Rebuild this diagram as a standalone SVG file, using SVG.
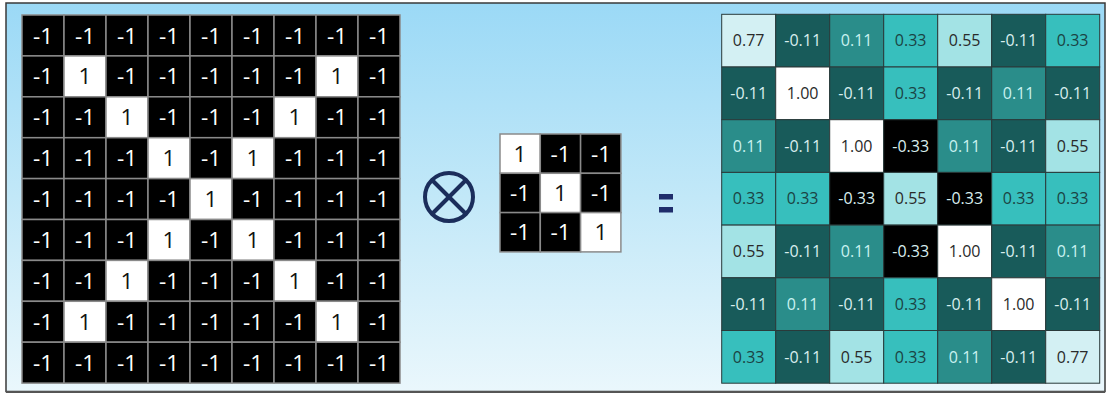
<svg xmlns="http://www.w3.org/2000/svg" width="1106" height="394" viewBox="0 0 1106 394">
<defs>
<linearGradient id="bg" x1="0" y1="0" x2="0" y2="1">
<stop offset="0" stop-color="#9bd9f6"/>
<stop offset="0.5" stop-color="#c2e8f8"/>
<stop offset="1" stop-color="#eaf7fc"/>
</linearGradient>
<style>
.b{fill:#000;stroke:#8a8a8a;stroke-width:1.5}
.w{fill:#fff;stroke:#8a8a8a;stroke-width:1.5}
.tw{fill:#fff;font-family:"Open Sans","Noto Sans",sans-serif;font-size:22.5px;text-anchor:middle}
.tb{fill:#111;font-family:"Open Sans","Noto Sans",sans-serif;font-size:22.5px;text-anchor:middle}
.c{stroke:#2a3a3a;stroke-width:1}
.n{font-family:"Open Sans","Noto Sans",sans-serif;font-size:16px;text-anchor:middle}
.v77{fill:#d3f0f3}.v11n{fill:#185b5a}.v11{fill:#2a8d8a}.v33{fill:#37bfbd}.v55{fill:#a3e3e5}.v100{fill:#fff}.v33n{fill:#000}
.d{fill:#2a2a2a}.l{fill:#d9eeee}.lc{fill:#c8f2f0}.dt{fill:#1b4343}
.op{stroke:#1b2d5b;stroke-width:4;fill:none}
</style>
</defs>
<rect x="0" y="0" width="1106" height="394" fill="#ffffff"/>
<rect x="6" y="3" width="1099" height="388.5" fill="url(#bg)" stroke="#3a3a3a" stroke-width="1.5"/>
<line x1="6" y1="392" x2="1105" y2="392" stroke="#555" stroke-width="2"/>

<g id="input-grid">
<g id="r0">
<rect class="b" x="22" y="15" width="42" height="40.9"/><rect class="b" x="64" y="15" width="42" height="40.9"/><rect class="b" x="106" y="15" width="42" height="40.9"/><rect class="b" x="148" y="15" width="42" height="40.9"/><rect class="b" x="190" y="15" width="42" height="40.9"/><rect class="b" x="232" y="15" width="42" height="40.9"/><rect class="b" x="274" y="15" width="42" height="40.9"/><rect class="b" x="316" y="15" width="42" height="40.9"/><rect class="b" x="358" y="15" width="42" height="40.9"/>
<text class="tw" x="43" y="43.5">-1</text><text class="tw" x="85" y="43.5">-1</text><text class="tw" x="127" y="43.5">-1</text><text class="tw" x="169" y="43.5">-1</text><text class="tw" x="211" y="43.5">-1</text><text class="tw" x="253" y="43.5">-1</text><text class="tw" x="295" y="43.5">-1</text><text class="tw" x="337" y="43.5">-1</text><text class="tw" x="379" y="43.5">-1</text>
</g>
<g id="r1">
<rect class="b" x="22" y="55.9" width="42" height="40.9"/><rect class="w" x="64" y="55.9" width="42" height="40.9"/><rect class="b" x="106" y="55.9" width="42" height="40.9"/><rect class="b" x="148" y="55.9" width="42" height="40.9"/><rect class="b" x="190" y="55.9" width="42" height="40.9"/><rect class="b" x="232" y="55.9" width="42" height="40.9"/><rect class="b" x="274" y="55.9" width="42" height="40.9"/><rect class="w" x="316" y="55.9" width="42" height="40.9"/><rect class="b" x="358" y="55.9" width="42" height="40.9"/>
<text class="tw" x="43" y="84.4">-1</text><text class="tb" x="85" y="84.4">1</text><text class="tw" x="127" y="84.4">-1</text><text class="tw" x="169" y="84.4">-1</text><text class="tw" x="211" y="84.4">-1</text><text class="tw" x="253" y="84.4">-1</text><text class="tw" x="295" y="84.4">-1</text><text class="tb" x="337" y="84.4">1</text><text class="tw" x="379" y="84.4">-1</text>
</g>
<g id="r2">
<rect class="b" x="22" y="96.8" width="42" height="40.9"/><rect class="b" x="64" y="96.8" width="42" height="40.9"/><rect class="w" x="106" y="96.8" width="42" height="40.9"/><rect class="b" x="148" y="96.8" width="42" height="40.9"/><rect class="b" x="190" y="96.8" width="42" height="40.9"/><rect class="b" x="232" y="96.8" width="42" height="40.9"/><rect class="w" x="274" y="96.8" width="42" height="40.9"/><rect class="b" x="316" y="96.8" width="42" height="40.9"/><rect class="b" x="358" y="96.8" width="42" height="40.9"/>
<text class="tw" x="43" y="125.3">-1</text><text class="tw" x="85" y="125.3">-1</text><text class="tb" x="127" y="125.3">1</text><text class="tw" x="169" y="125.3">-1</text><text class="tw" x="211" y="125.3">-1</text><text class="tw" x="253" y="125.3">-1</text><text class="tb" x="295" y="125.3">1</text><text class="tw" x="337" y="125.3">-1</text><text class="tw" x="379" y="125.3">-1</text>
</g>
<g id="r3">
<rect class="b" x="22" y="137.7" width="42" height="40.9"/><rect class="b" x="64" y="137.7" width="42" height="40.9"/><rect class="b" x="106" y="137.7" width="42" height="40.9"/><rect class="w" x="148" y="137.7" width="42" height="40.9"/><rect class="b" x="190" y="137.7" width="42" height="40.9"/><rect class="w" x="232" y="137.7" width="42" height="40.9"/><rect class="b" x="274" y="137.7" width="42" height="40.9"/><rect class="b" x="316" y="137.7" width="42" height="40.9"/><rect class="b" x="358" y="137.7" width="42" height="40.9"/>
<text class="tw" x="43" y="166.2">-1</text><text class="tw" x="85" y="166.2">-1</text><text class="tw" x="127" y="166.2">-1</text><text class="tb" x="169" y="166.2">1</text><text class="tw" x="211" y="166.2">-1</text><text class="tb" x="253" y="166.2">1</text><text class="tw" x="295" y="166.2">-1</text><text class="tw" x="337" y="166.2">-1</text><text class="tw" x="379" y="166.2">-1</text>
</g>
<g id="r4">
<rect class="b" x="22" y="178.6" width="42" height="40.9"/><rect class="b" x="64" y="178.6" width="42" height="40.9"/><rect class="b" x="106" y="178.6" width="42" height="40.9"/><rect class="b" x="148" y="178.6" width="42" height="40.9"/><rect class="w" x="190" y="178.6" width="42" height="40.9"/><rect class="b" x="232" y="178.6" width="42" height="40.9"/><rect class="b" x="274" y="178.6" width="42" height="40.9"/><rect class="b" x="316" y="178.6" width="42" height="40.9"/><rect class="b" x="358" y="178.6" width="42" height="40.9"/>
<text class="tw" x="43" y="207.1">-1</text><text class="tw" x="85" y="207.1">-1</text><text class="tw" x="127" y="207.1">-1</text><text class="tw" x="169" y="207.1">-1</text><text class="tb" x="211" y="207.1">1</text><text class="tw" x="253" y="207.1">-1</text><text class="tw" x="295" y="207.1">-1</text><text class="tw" x="337" y="207.1">-1</text><text class="tw" x="379" y="207.1">-1</text>
</g>
<g id="r5">
<rect class="b" x="22" y="219.5" width="42" height="40.9"/><rect class="b" x="64" y="219.5" width="42" height="40.9"/><rect class="b" x="106" y="219.5" width="42" height="40.9"/><rect class="w" x="148" y="219.5" width="42" height="40.9"/><rect class="b" x="190" y="219.5" width="42" height="40.9"/><rect class="w" x="232" y="219.5" width="42" height="40.9"/><rect class="b" x="274" y="219.5" width="42" height="40.9"/><rect class="b" x="316" y="219.5" width="42" height="40.9"/><rect class="b" x="358" y="219.5" width="42" height="40.9"/>
<text class="tw" x="43" y="248">-1</text><text class="tw" x="85" y="248">-1</text><text class="tw" x="127" y="248">-1</text><text class="tb" x="169" y="248">1</text><text class="tw" x="211" y="248">-1</text><text class="tb" x="253" y="248">1</text><text class="tw" x="295" y="248">-1</text><text class="tw" x="337" y="248">-1</text><text class="tw" x="379" y="248">-1</text>
</g>
<g id="r6">
<rect class="b" x="22" y="260.4" width="42" height="40.9"/><rect class="b" x="64" y="260.4" width="42" height="40.9"/><rect class="w" x="106" y="260.4" width="42" height="40.9"/><rect class="b" x="148" y="260.4" width="42" height="40.9"/><rect class="b" x="190" y="260.4" width="42" height="40.9"/><rect class="b" x="232" y="260.4" width="42" height="40.9"/><rect class="w" x="274" y="260.4" width="42" height="40.9"/><rect class="b" x="316" y="260.4" width="42" height="40.9"/><rect class="b" x="358" y="260.4" width="42" height="40.9"/>
<text class="tw" x="43" y="288.9">-1</text><text class="tw" x="85" y="288.9">-1</text><text class="tb" x="127" y="288.9">1</text><text class="tw" x="169" y="288.9">-1</text><text class="tw" x="211" y="288.9">-1</text><text class="tw" x="253" y="288.9">-1</text><text class="tb" x="295" y="288.9">1</text><text class="tw" x="337" y="288.9">-1</text><text class="tw" x="379" y="288.9">-1</text>
</g>
<g id="r7">
<rect class="b" x="22" y="301.3" width="42" height="40.9"/><rect class="w" x="64" y="301.3" width="42" height="40.9"/><rect class="b" x="106" y="301.3" width="42" height="40.9"/><rect class="b" x="148" y="301.3" width="42" height="40.9"/><rect class="b" x="190" y="301.3" width="42" height="40.9"/><rect class="b" x="232" y="301.3" width="42" height="40.9"/><rect class="b" x="274" y="301.3" width="42" height="40.9"/><rect class="w" x="316" y="301.3" width="42" height="40.9"/><rect class="b" x="358" y="301.3" width="42" height="40.9"/>
<text class="tw" x="43" y="329.8">-1</text><text class="tb" x="85" y="329.8">1</text><text class="tw" x="127" y="329.8">-1</text><text class="tw" x="169" y="329.8">-1</text><text class="tw" x="211" y="329.8">-1</text><text class="tw" x="253" y="329.8">-1</text><text class="tw" x="295" y="329.8">-1</text><text class="tb" x="337" y="329.8">1</text><text class="tw" x="379" y="329.8">-1</text>
</g>
<g id="r8">
<rect class="b" x="22" y="342.2" width="42" height="40.9"/><rect class="b" x="64" y="342.2" width="42" height="40.9"/><rect class="b" x="106" y="342.2" width="42" height="40.9"/><rect class="b" x="148" y="342.2" width="42" height="40.9"/><rect class="b" x="190" y="342.2" width="42" height="40.9"/><rect class="b" x="232" y="342.2" width="42" height="40.9"/><rect class="b" x="274" y="342.2" width="42" height="40.9"/><rect class="b" x="316" y="342.2" width="42" height="40.9"/><rect class="b" x="358" y="342.2" width="42" height="40.9"/>
<text class="tw" x="43" y="370.7">-1</text><text class="tw" x="85" y="370.7">-1</text><text class="tw" x="127" y="370.7">-1</text><text class="tw" x="169" y="370.7">-1</text><text class="tw" x="211" y="370.7">-1</text><text class="tw" x="253" y="370.7">-1</text><text class="tw" x="295" y="370.7">-1</text><text class="tw" x="337" y="370.7">-1</text><text class="tw" x="379" y="370.7">-1</text>
</g>
</g>

<g id="convolve-symbol">
<circle class="op" cx="449" cy="197" r="24"/>
<line class="op" x1="432" y1="180" x2="466" y2="214"/>
<line class="op" x1="466" y1="180" x2="432" y2="214"/>
</g>

<g id="kernel">
<rect class="w" x="500" y="134" width="40.3" height="39.3"/><rect class="b" x="540.3" y="134" width="40.3" height="39.3"/><rect class="b" x="580.6" y="134" width="40.3" height="39.3"/>
<rect class="b" x="500" y="173.3" width="40.3" height="39.3"/><rect class="w" x="540.3" y="173.3" width="40.3" height="39.3"/><rect class="b" x="580.6" y="173.3" width="40.3" height="39.3"/>
<rect class="b" x="500" y="212.6" width="40.3" height="39.3"/><rect class="b" x="540.3" y="212.6" width="40.3" height="39.3"/><rect class="w" x="580.6" y="212.6" width="40.3" height="39.3"/>
<text class="tb" x="520" y="161.5">1</text><text class="tw" x="560.5" y="161.5">-1</text><text class="tw" x="601" y="161.5">-1</text>
<text class="tw" x="520" y="200.5">-1</text><text class="tb" x="560.5" y="200.5">1</text><text class="tw" x="601" y="200.5">-1</text>
<text class="tw" x="520" y="240">-1</text><text class="tw" x="560.5" y="240">-1</text><text class="tb" x="601" y="240">1</text>
</g>

<g id="equals-symbol" fill="#1f2d6b">
<rect x="659" y="194" width="14" height="5.5"/>
<rect x="659" y="207" width="14" height="5.5"/>
</g>

<g id="output-grid">
<g id="o0">
<rect class="c v77" x="721.7" y="14.3" width="54" height="52.7"/><rect class="c v11n" x="775.7" y="14.3" width="54" height="52.7"/><rect class="c v11" x="829.7" y="14.3" width="54" height="52.7"/><rect class="c v33" x="883.7" y="14.3" width="54" height="52.7"/><rect class="c v55" x="937.7" y="14.3" width="54" height="52.7"/><rect class="c v11n" x="991.7" y="14.3" width="54" height="52.7"/><rect class="c v33" x="1045.7" y="14.3" width="54" height="52.7"/>
<text class="n d" x="748.7" y="46.3">0.77</text><text class="n l" x="802.7" y="46.3">-0.11</text><text class="n lc" x="856.7" y="46.3">0.11</text><text class="n dt" x="910.7" y="46.3">0.33</text><text class="n d" x="964.7" y="46.3">0.55</text><text class="n l" x="1018.7" y="46.3">-0.11</text><text class="n dt" x="1072.7" y="46.3">0.33</text>
</g>
<g id="o1">
<rect class="c v11n" x="721.7" y="67" width="54" height="52.7"/><rect class="c v100" x="775.7" y="67" width="54" height="52.7"/><rect class="c v11n" x="829.7" y="67" width="54" height="52.7"/><rect class="c v33" x="883.7" y="67" width="54" height="52.7"/><rect class="c v11n" x="937.7" y="67" width="54" height="52.7"/><rect class="c v11" x="991.7" y="67" width="54" height="52.7"/><rect class="c v11n" x="1045.7" y="67" width="54" height="52.7"/>
<text class="n l" x="748.7" y="99">-0.11</text><text class="n d" x="802.7" y="99">1.00</text><text class="n l" x="856.7" y="99">-0.11</text><text class="n dt" x="910.7" y="99">0.33</text><text class="n l" x="964.7" y="99">-0.11</text><text class="n lc" x="1018.7" y="99">0.11</text><text class="n l" x="1072.7" y="99">-0.11</text>
</g>
<g id="o2">
<rect class="c v11" x="721.7" y="119.7" width="54" height="52.7"/><rect class="c v11n" x="775.7" y="119.7" width="54" height="52.7"/><rect class="c v100" x="829.7" y="119.7" width="54" height="52.7"/><rect class="c v33n" x="883.7" y="119.7" width="54" height="52.7"/><rect class="c v11" x="937.7" y="119.7" width="54" height="52.7"/><rect class="c v11n" x="991.7" y="119.7" width="54" height="52.7"/><rect class="c v55" x="1045.7" y="119.7" width="54" height="52.7"/>
<text class="n lc" x="748.7" y="151.7">0.11</text><text class="n l" x="802.7" y="151.7">-0.11</text><text class="n d" x="856.7" y="151.7">1.00</text><text class="n l" x="910.7" y="151.7">-0.33</text><text class="n lc" x="964.7" y="151.7">0.11</text><text class="n l" x="1018.7" y="151.7">-0.11</text><text class="n d" x="1072.7" y="151.7">0.55</text>
</g>
<g id="o3">
<rect class="c v33" x="721.7" y="172.4" width="54" height="52.7"/><rect class="c v33" x="775.7" y="172.4" width="54" height="52.7"/><rect class="c v33n" x="829.7" y="172.4" width="54" height="52.7"/><rect class="c v55" x="883.7" y="172.4" width="54" height="52.7"/><rect class="c v33n" x="937.7" y="172.4" width="54" height="52.7"/><rect class="c v33" x="991.7" y="172.4" width="54" height="52.7"/><rect class="c v33" x="1045.7" y="172.4" width="54" height="52.7"/>
<text class="n dt" x="748.7" y="204.4">0.33</text><text class="n dt" x="802.7" y="204.4">0.33</text><text class="n l" x="856.7" y="204.4">-0.33</text><text class="n d" x="910.7" y="204.4">0.55</text><text class="n l" x="964.7" y="204.4">-0.33</text><text class="n dt" x="1018.7" y="204.4">0.33</text><text class="n dt" x="1072.7" y="204.4">0.33</text>
</g>
<g id="o4">
<rect class="c v55" x="721.7" y="225.1" width="54" height="52.7"/><rect class="c v11n" x="775.7" y="225.1" width="54" height="52.7"/><rect class="c v11" x="829.7" y="225.1" width="54" height="52.7"/><rect class="c v33n" x="883.7" y="225.1" width="54" height="52.7"/><rect class="c v100" x="937.7" y="225.1" width="54" height="52.7"/><rect class="c v11n" x="991.7" y="225.1" width="54" height="52.7"/><rect class="c v11" x="1045.7" y="225.1" width="54" height="52.7"/>
<text class="n d" x="748.7" y="257.1">0.55</text><text class="n l" x="802.7" y="257.1">-0.11</text><text class="n lc" x="856.7" y="257.1">0.11</text><text class="n l" x="910.7" y="257.1">-0.33</text><text class="n d" x="964.7" y="257.1">1.00</text><text class="n l" x="1018.7" y="257.1">-0.11</text><text class="n lc" x="1072.7" y="257.1">0.11</text>
</g>
<g id="o5">
<rect class="c v11n" x="721.7" y="277.8" width="54" height="52.7"/><rect class="c v11" x="775.7" y="277.8" width="54" height="52.7"/><rect class="c v11n" x="829.7" y="277.8" width="54" height="52.7"/><rect class="c v33" x="883.7" y="277.8" width="54" height="52.7"/><rect class="c v11n" x="937.7" y="277.8" width="54" height="52.7"/><rect class="c v100" x="991.7" y="277.8" width="54" height="52.7"/><rect class="c v11n" x="1045.7" y="277.8" width="54" height="52.7"/>
<text class="n l" x="748.7" y="309.8">-0.11</text><text class="n lc" x="802.7" y="309.8">0.11</text><text class="n l" x="856.7" y="309.8">-0.11</text><text class="n dt" x="910.7" y="309.8">0.33</text><text class="n l" x="964.7" y="309.8">-0.11</text><text class="n d" x="1018.7" y="309.8">1.00</text><text class="n l" x="1072.7" y="309.8">-0.11</text>
</g>
<g id="o6">
<rect class="c v33" x="721.7" y="330.5" width="54" height="52.7"/><rect class="c v11n" x="775.7" y="330.5" width="54" height="52.7"/><rect class="c v55" x="829.7" y="330.5" width="54" height="52.7"/><rect class="c v33" x="883.7" y="330.5" width="54" height="52.7"/><rect class="c v11" x="937.7" y="330.5" width="54" height="52.7"/><rect class="c v11n" x="991.7" y="330.5" width="54" height="52.7"/><rect class="c v77" x="1045.7" y="330.5" width="54" height="52.7"/>
<text class="n dt" x="748.7" y="362.5">0.33</text><text class="n l" x="802.7" y="362.5">-0.11</text><text class="n d" x="856.7" y="362.5">0.55</text><text class="n dt" x="910.7" y="362.5">0.33</text><text class="n lc" x="964.7" y="362.5">0.11</text><text class="n l" x="1018.7" y="362.5">-0.11</text><text class="n d" x="1072.7" y="362.5">0.77</text>
</g>
</g>
</svg>
